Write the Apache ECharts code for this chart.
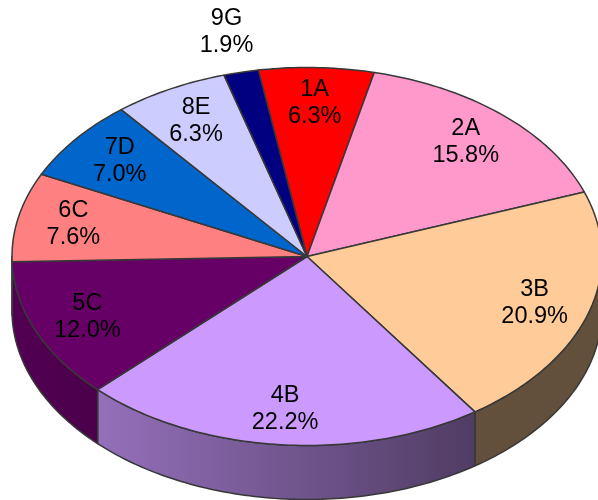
<!DOCTYPE html>
<html>
<head>
<meta charset="utf-8">
<script src="https://cdn.jsdelivr.net/npm/echarts@6/dist/echarts.min.js"></script>
<style>html,body{margin:0;padding:0;background:#fff}#c{width:598px;height:500px}</style>
</head>
<body>
<div id="c"></div>
<script>
var categories = ['1A', '2A', '3B', '4B', '5C', '6C', '7D', '8E', '9G'];
var values = [6.3, 15.8, 20.9, 22.2, 12.0, 7.6, 7.0, 6.3, 1.9];
var colors = ['#FF0000', '#FF99CC', '#FFCC99', '#CC99FF', '#660066', '#FF8080', '#0066CC', '#CCCCFF', '#000080'];

var CX = 307, CY = 256.5, RX = 295, RY = 189, DEPTH = 54, START = 99.5;
var total = values.reduce(function (a, b) { return a + b; }, 0);

function pt(tDeg, dy) {
  var t = tDeg * Math.PI / 180;
  return [CX + RX * Math.cos(t), CY - RY * Math.sin(t) + (dy || 0)];
}
function shade(hex, f) {
  var r = parseInt(hex.substr(1, 2), 16), g = parseInt(hex.substr(3, 2), 16), b = parseInt(hex.substr(5, 2), 16);
  return 'rgb(' + Math.round(r * f) + ',' + Math.round(g * f) + ',' + Math.round(b * f) + ')';
}
function lightAt(x) {
  return Math.max(0.39, Math.min(0.8, 0.822 - 0.000921 * x));
}

function renderItem(params, api) {
  var i = params.dataIndex;
  var before = 0;
  for (var k = 0; k < i; k++) before += values[k];
  var v = api.value(0);
  var ta = START - before / total * 360;
  var tb = ta - v / total * 360;
  var children = [];
  var top = [[CX, CY]];
  var n = Math.max(4, Math.ceil((ta - tb) / 1));
  for (var s = 0; s <= n; s++) top.push(pt(ta - (ta - tb) * s / n));
  children.push({
    type: 'polygon', z2: 10,
    shape: { points: top },
    style: { fill: colors[i], stroke: '#383838', lineWidth: 1.5, lineJoin: 'round' }
  });
  var hi = Math.min(ta, 0), lo = Math.max(tb, -180);
  if (hi > lo) {
    var side = [];
    var m = Math.max(2, Math.ceil((hi - lo) / 1));
    for (var s2 = 0; s2 <= m; s2++) side.push(pt(hi - (hi - lo) * s2 / m));
    for (var s3 = m; s3 >= 0; s3--) side.push(pt(hi - (hi - lo) * s3 / m, DEPTH));
    var xl = pt(lo)[0], xr = pt(hi)[0];
    children.push({
      type: 'polygon', z2: 5,
      shape: { points: side },
      style: {
        fill: {
          type: 'linear', x: 0, y: 0, x2: 1, y2: 0,
          colorStops: [
            { offset: 0, color: shade(colors[i], lightAt(xl)) },
            { offset: 1, color: shade(colors[i], lightAt(xr)) }
          ]
        },
        stroke: '#383838', lineWidth: 1.5, lineJoin: 'round'
      }
    });
  }
  var mid = (ta + tb) / 2;
  var frac = v / total < 0.03 ? 1.22 : 0.81;
  var mr = mid * Math.PI / 180;
  var lx = CX + RX * frac * Math.cos(mr);
  var ly = CY - RY * frac * Math.sin(mr);
  children.push({
    type: 'text', z2: 20,
    style: {
      text: categories[i] + '\n' + v.toFixed(1) + '%',
      x: lx, y: ly,
      fill: '#000',
      font: '23.5px "Liberation Sans", Arial, sans-serif',
      lineHeight: 27,
      align: 'center', verticalAlign: 'middle'
    }
  });
  return { type: 'group', children: children };
}

var chart = echarts.init(document.getElementById('c'), null, { renderer: 'canvas' });
chart.setOption({
  backgroundColor: '#ffffff',
  animation: false,
  series: [{
    type: 'custom',
    coordinateSystem: 'none',
    renderItem: renderItem,
    data: values.map(function (v, i) { return { name: categories[i], value: [v] }; })
  }]
});
</script>
</body>
</html>
